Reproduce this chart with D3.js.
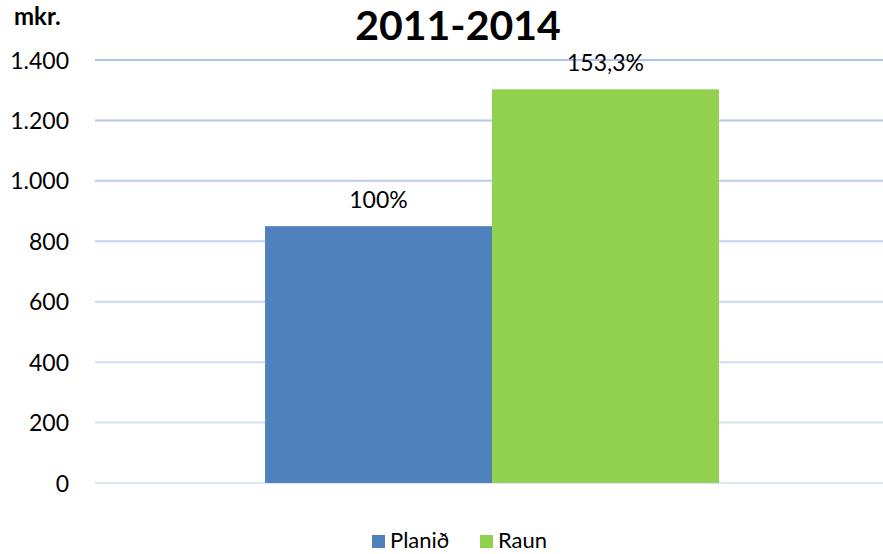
<!DOCTYPE html>
<html><head><meta charset="utf-8">
<script src="https://cdn.jsdelivr.net/npm/d3@7"></script>
<style>body{margin:0;background:#fff}svg{display:block;font-family:Lato,"Open Sans",sans-serif}</style>
</head><body><svg id="c" width="883" height="554"></svg>
<script>
const categories = ["2011-2014"];
const seriesNames = ["Planið", "Raun"];
const seriesValues = [850, 1303];
const dataLabels = ["100%", "153,3%"];
const yTicks = [0, 200, 400, 600, 800, 1000, 1200, 1400];
const yTickLabels = ["0", "200", "400", "600", "800", "1.000", "1.200", "1.400"];
const colors = ["#4f81bd", "#92d050"];

const svg = d3.select("#c");
const x0 = d3.scaleBand().domain(categories).range([98, 886]).paddingInner(0).paddingOuter(0.368);
const x1 = d3.scaleBand().domain(seriesNames).range([0, x0.bandwidth()]);
const y = d3.scaleLinear().domain([0, 1400]).range([483, 60]);
const gridCol = d3.scaleLinear().domain([0, 1400]).range(["#dde6f5", "#adc3e8"]);

svg.append("g").selectAll("line").data(yTicks).join("line")
  .attr("x1", 95).attr("x2", 883)
  .attr("y1", d => y(d)).attr("y2", d => y(d))
  .attr("stroke", d => gridCol(d)).attr("stroke-width", 2);

const yAxis = d3.axisLeft(y).tickValues(yTicks).tickFormat((d, i) => yTickLabels[i]).tickSize(0).tickPadding(0);
const ga = svg.append("g").attr("transform", "translate(69,0)").call(yAxis);
ga.select(".domain").remove();
ga.selectAll("text").attr("font-size", 23).attr("fill", "#000").attr("font-family", "Lato,'Open Sans',sans-serif").attr("dy", "0.35em");

const g = svg.append("g").attr("transform", `translate(${x0(categories[0])},0)`);
g.selectAll("rect").data(seriesValues).join("rect")
  .attr("x", (d, i) => x1(seriesNames[i])).attr("width", x1.bandwidth())
  .attr("y", d => y(d)).attr("height", d => y(0) - y(d))
  .attr("fill", (d, i) => colors[i]);
g.selectAll("text").data(seriesValues).join("text")
  .attr("x", (d, i) => x1(seriesNames[i]) + x1.bandwidth() / 2)
  .attr("y", d => y(d) - 18)
  .attr("text-anchor", "middle").attr("font-size", 23).attr("fill", "#000")
  .text((d, i) => dataLabels[i]);

svg.append("text").attr("x", 458).attr("y", 40).attr("text-anchor", "middle")
  .attr("font-size", 41).attr("font-weight", "bold").text(categories[0]);
svg.append("text").attr("x", 14).attr("y", 25).attr("font-size", 24).attr("font-weight", "bold").text("mkr.");

const legendX = [372, 480];
const lg = svg.append("g");
seriesNames.forEach((s, i) => {
  lg.append("rect").attr("x", legendX[i]).attr("y", 535).attr("width", 13).attr("height", 13).attr("fill", colors[i]);
  lg.append("text").attr("x", legendX[i] + 18).attr("y", 548).attr("font-size", 22).text(s);
});
</script></body></html>
